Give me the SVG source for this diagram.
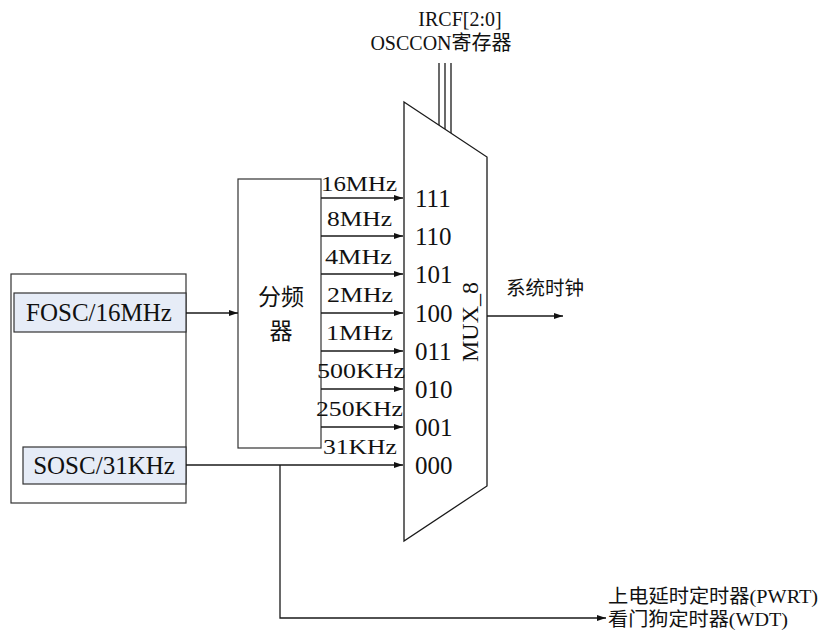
<svg xmlns="http://www.w3.org/2000/svg" width="819" height="630" viewBox="0 0 819 630">
<style>
.ln{fill:none;stroke:#1a1a1a;stroke-width:1.3}
.bx{fill:none;stroke:#333;stroke-width:1.2}
.src{fill:#e6ecf7;stroke:#333;stroke-width:1.2}
.t{font-family:"Liberation Serif","Times New Roman",serif;fill:#111}
.cj{font-family:"Liberation Serif","Noto Sans CJK SC",serif;fill:#111}
.f{font-size:22px}
.n{font-size:25px}
</style>
<defs>
<marker id="ah" markerWidth="10" markerHeight="8" refX="9" refY="4" orient="auto" markerUnits="userSpaceOnUse">
<path d="M0,1 L9,4 L0,7 Z" fill="#111"/>
</marker>
</defs>
<rect width="819" height="630" fill="#fff"/>
<g id="osc-block">
<rect class="bx" x="11" y="274" width="175" height="229"/>
</g>
<g id="fosc">
<rect class="src" x="14" y="293" width="172" height="39"/>
<text class="t" x="99" y="321" font-size="25" text-anchor="middle">FOSC/16MHz</text>
</g>
<g id="sosc">
<rect class="src" x="23" y="447" width="163" height="37"/>
<text class="t" x="104" y="474" font-size="25" text-anchor="middle">SOSC/31KHz</text>
</g>
<g id="divider">
<rect class="bx" x="238" y="179" width="83" height="269"/>
<text class="cj" x="281" y="305" font-size="23" text-anchor="middle">分频</text>
<text class="cj" x="281" y="339" font-size="23" text-anchor="middle">器</text>
</g>
<g id="mux">
<path class="ln" d="M404,102 L487,157 L487,486 L404,541 Z"/>
<text class="t n" x="415" y="207">111</text>
<text class="t n" x="415" y="245">110</text>
<text class="t n" x="415" y="283">101</text>
<text class="t n" x="415" y="322">100</text>
<text class="t n" x="415" y="360">011</text>
<text class="t n" x="415" y="398">010</text>
<text class="t n" x="415" y="436">001</text>
<text class="t n" x="415" y="474">000</text>
<text class="t" font-size="24" transform="translate(478,322) rotate(-90)" text-anchor="middle">MUX_8</text>
</g>
<g id="ircf">
<text class="t" x="460" y="26" font-size="20" text-anchor="middle">IRCF[2:0]</text>
<text class="cj" x="441" y="50" font-size="20" text-anchor="middle">OSCCON寄存器</text>
</g>
<g id="freq-labels">
<text class="t f" x="321" y="191" textLength="76" lengthAdjust="spacingAndGlyphs">16MHz</text>
<text class="t f" x="327" y="226" textLength="65" lengthAdjust="spacingAndGlyphs">8MHz</text>
<text class="t f" x="325" y="264" textLength="67" lengthAdjust="spacingAndGlyphs">4MHz</text>
<text class="t f" x="327" y="302" textLength="66" lengthAdjust="spacingAndGlyphs">2MHz</text>
<text class="t f" x="326" y="340" textLength="67" lengthAdjust="spacingAndGlyphs">1MHz</text>
<text class="t f" x="317" y="378" textLength="88" lengthAdjust="spacingAndGlyphs">500KHz</text>
<text class="t f" x="316" y="416" textLength="87" lengthAdjust="spacingAndGlyphs">250KHz</text>
<text class="t f" x="323" y="454" textLength="74" lengthAdjust="spacingAndGlyphs">31KHz</text>
</g>
<g id="outputs">
<text class="cj" x="506" y="295" font-size="19.5">系统时钟</text>
<text class="cj" x="608" y="603" textLength="210" lengthAdjust="spacingAndGlyphs" font-size="19">上电延时定时器(PWRT)</text>
<text class="cj" x="608" y="626" textLength="180" lengthAdjust="spacingAndGlyphs" font-size="19">看门狗定时器(WDT)</text>
</g>
<g id="connectors">
<line class="ln" x1="439" y1="63" x2="439" y2="125"/>
<line class="ln" x1="445" y1="63" x2="445" y2="129"/>
<line class="ln" x1="451" y1="63" x2="451" y2="133"/>
<line class="ln" x1="186" y1="313" x2="238" y2="313" marker-end="url(#ah)"/>
<line class="ln" x1="321" y1="198" x2="403" y2="198" marker-end="url(#ah)"/>
<line class="ln" x1="321" y1="236" x2="403" y2="236" marker-end="url(#ah)"/>
<line class="ln" x1="321" y1="274" x2="403" y2="274" marker-end="url(#ah)"/>
<line class="ln" x1="321" y1="313" x2="403" y2="313" marker-end="url(#ah)"/>
<line class="ln" x1="321" y1="351" x2="403" y2="351" marker-end="url(#ah)"/>
<line class="ln" x1="321" y1="389" x2="403" y2="389" marker-end="url(#ah)"/>
<line class="ln" x1="321" y1="427" x2="403" y2="427" marker-end="url(#ah)"/>
<line class="ln" x1="186" y1="465" x2="403" y2="465" marker-end="url(#ah)"/>
<line class="ln" x1="487" y1="316" x2="563" y2="316" marker-end="url(#ah)"/>
<polyline class="ln" points="280,465 280,618 606,618" marker-end="url(#ah)"/>
</g>
</svg>
